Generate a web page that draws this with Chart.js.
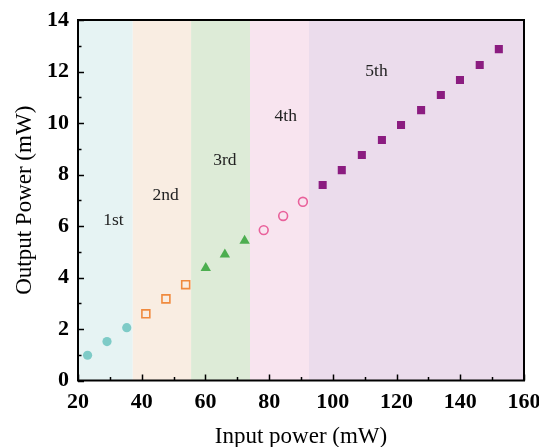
<!DOCTYPE html>
<html>
<head>
<meta charset="utf-8">
<script src="https://cdn.jsdelivr.net/npm/chart.js@4"></script>
<style>
html,body{margin:0;padding:0;background:#fff;}
#wrap{width:539px;height:447px;position:relative;}
</style>
</head>
<body>
<div id="wrap"><canvas id="c" width="539" height="447"></canvas></div>
<script>
// ---- data ----
const orderNames = ['1st', '2nd', '3rd', '4th', '5th'];
const x1st = [23.0, 29.1, 35.3];
const y1st = [0.98, 1.51, 2.05];
const x2nd = [41.3, 47.6, 53.8];
const y2nd = [2.59, 3.17, 3.72];
const x3rd = [60.1, 66.1, 72.3];
const y3rd = [4.37, 4.89, 5.43];
const x4th = [78.3, 84.4, 90.6];
const y4th = [5.84, 6.39, 6.94];
const x5th = [96.8, 102.8, 109.1, 115.4, 121.4, 127.7, 133.9, 139.9, 146.1, 152.1];
const y5th = [7.59, 8.17, 8.76, 9.34, 9.92, 10.50, 11.09, 11.67, 12.25, 12.87];
const bandEdges = [20, 37.2, 55.5, 74.0, 92.5, 160];
const labelX = [31.1, 47.5, 66.1, 85.2, 113.7];
const labelY = [6.2, 7.2, 8.56, 10.24, 12.0];
const xTicks = [20, 40, 60, 80, 100, 120, 140, 160];
const yTicks = [0, 2, 4, 6, 8, 10, 12, 14];

const bandColors = ['#e6f3f3', '#f9ede2', '#ddebd7', '#f8e4ef', '#ebdcec'];
const SERIF = '"Liberation Serif", "Times New Roman", serif';

function pts(xs, ys) { return xs.map((x, i) => ({x: x, y: ys[i]})); }

const bandsPlugin = {
  id: 'bands',
  beforeDatasetsDraw(chart) {
    const {ctx, chartArea, scales} = chart;
    const xs = scales.x, ys = scales.y;
    ctx.save();
    for (let i = 0; i < bandEdges.length - 1; i++) {
      const a = xs.getPixelForValue(bandEdges[i]);
      const b = xs.getPixelForValue(bandEdges[i + 1]);
      ctx.fillStyle = bandColors[i];
      ctx.fillRect(a, chartArea.top, b - a, chartArea.bottom - chartArea.top);
    }
    ctx.fillStyle = '#222';
    ctx.font = '17.5px ' + SERIF;
    ctx.textAlign = 'center';
    ctx.textBaseline = 'middle';
    for (let i = 0; i < orderNames.length; i++) {
      ctx.fillText(orderNames[i], xs.getPixelForValue(labelX[i]), ys.getPixelForValue(labelY[i]));
    }
    ctx.restore();
  },
  afterDraw(chart) {
    const {ctx, chartArea, scales} = chart;
    const xs = scales.x, ys = scales.y;
    ctx.save();
    ctx.strokeStyle = '#000';
    ctx.lineWidth = 1.5;
    for (let v = 20; v <= 160; v += 10) {
      const px = Math.round(xs.getPixelForValue(v)) + 0.5;
      const len = (v % 20 === 0) ? 6 : 3.5;
      ctx.beginPath();
      ctx.moveTo(px, chartArea.bottom);
      ctx.lineTo(px, chartArea.bottom - len);
      ctx.stroke();
    }
    for (let v = 0; v <= 14; v += 1) {
      const py = Math.round(ys.getPixelForValue(v)) + 0.5;
      const len = (v % 2 === 0) ? 6 : 3.5;
      ctx.beginPath();
      ctx.moveTo(chartArea.left, py);
      ctx.lineTo(chartArea.left + len, py);
      ctx.stroke();
    }
    ctx.lineWidth = 2;
    ctx.strokeRect(chartArea.left, chartArea.top, chartArea.right - chartArea.left, chartArea.bottom - chartArea.top);
    ctx.restore();
  }
};

new Chart(document.getElementById('c'), {
  type: 'scatter',
  data: {
    datasets: [
      {label: orderNames[0], data: pts(x1st, y1st), pointStyle: 'circle', pointRadius: 4.6,
       backgroundColor: '#7ecbc7', borderColor: '#7ecbc7', borderWidth: 0},
      {label: orderNames[1], data: pts(x2nd, y2nd), pointStyle: 'rect', pointRadius: 5.6,
       backgroundColor: 'rgba(0,0,0,0)', borderColor: '#f08a3e', borderWidth: 1.6},
      {label: orderNames[2], data: pts(x3rd, y3rd), pointStyle: 'triangle', pointRadius: 6,
       backgroundColor: '#4cae4f', borderColor: '#4cae4f', borderWidth: 0},
      {label: orderNames[3], data: pts(x4th, y4th), pointStyle: 'circle', pointRadius: 4.4,
       backgroundColor: 'rgba(0,0,0,0)', borderColor: '#e9619b', borderWidth: 1.6},
      {label: orderNames[4], data: pts(x5th, y5th), pointStyle: 'rect', pointRadius: 5.7,
       backgroundColor: '#8b1c80', borderColor: '#8b1c80', borderWidth: 0}
    ]
  },
  options: {
    responsive: false,
    animation: false,
    devicePixelRatio: 1,
    layout: {padding: {top: 20, right: 15, left: 0, bottom: 0}},
    plugins: {legend: {display: false}, tooltip: {enabled: false}},
    scales: {
      x: {
        type: 'linear', min: 20, max: 160,
        afterBuildTicks(s) { s.ticks = xTicks.map(v => ({value: v})); },
        afterFit(s) { s.height = 66.5; s.paddingLeft = 0; s.paddingRight = 0; },
        grid: {display: false, drawTicks: false},
        border: {display: false},
        ticks: {color: '#000', padding: 9, font: {family: SERIF, size: 22, weight: 'bold'}},
        title: {display: true, text: 'Input power (mW)', color: '#000',
                font: {family: SERIF, size: 23}, padding: {top: 0, bottom: -4}}
      },
      y: {
        type: 'linear', min: 0, max: 14,
        afterBuildTicks(s) { s.ticks = yTicks.map(v => ({value: v})); },
        afterFit(s) { s.width = 78; s.paddingTop = 0; s.paddingBottom = 0; },
        grid: {display: false, drawTicks: false},
        border: {display: false},
        ticks: {color: '#000', padding: 9, font: {family: SERIF, size: 22, weight: 'bold'}},
        title: {display: true, text: 'Output Power (mW)', color: '#000',
                font: {family: SERIF, size: 23}, padding: {top: 11, bottom: 0}}
      }
    }
  },
  plugins: [bandsPlugin]
});
</script>
</body>
</html>
